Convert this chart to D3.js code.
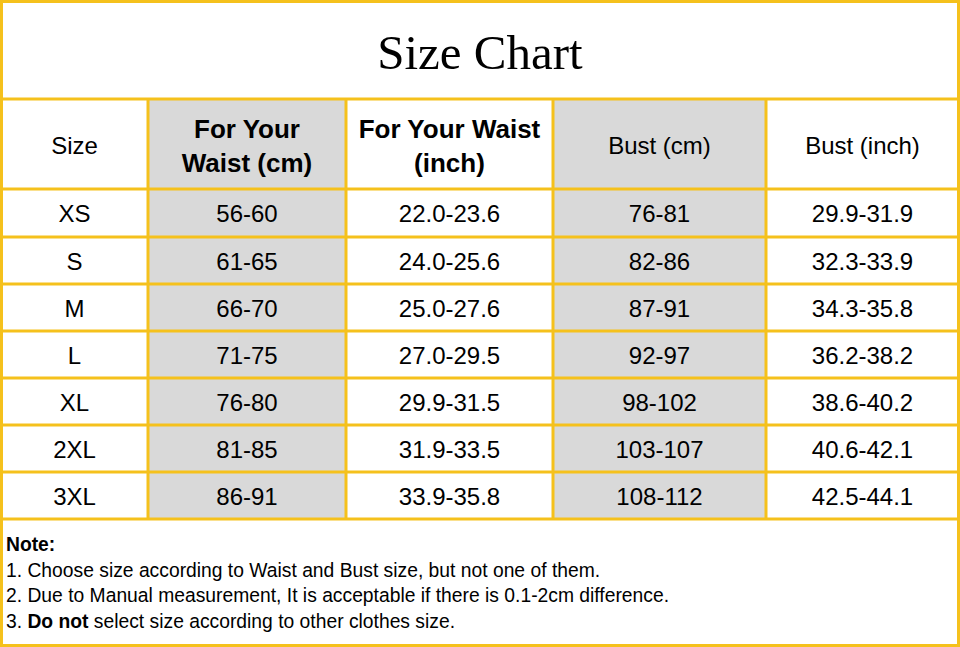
<!DOCTYPE html>
<html><head><meta charset="utf-8">
<script src="https://cdn.jsdelivr.net/npm/d3@7"></script>
<style>body{margin:0;background:#fff}</style>
</head><body><svg id="chart"></svg>
<script>
var headers = [["Size"], ["For Your", "Waist (cm)"], ["For Your Waist", "(inch)"], ["Bust (cm)"], ["Bust (inch)"]];
var headerBold = [false, true, true, false, false];
var sizes = ["XS", "S", "M", "L", "XL", "2XL", "3XL"];
var waistCm = ["56-60", "61-65", "66-70", "71-75", "76-80", "81-85", "86-91"];
var waistInch = ["22.0-23.6", "24.0-25.6", "25.0-27.6", "27.0-29.5", "29.9-31.5", "31.9-33.5", "33.9-35.8"];
var bustCm = ["76-81", "82-86", "87-91", "92-97", "98-102", "103-107", "108-112"];
var bustInch = ["29.9-31.9", "32.3-33.9", "34.3-35.8", "36.2-38.2", "38.6-40.2", "40.6-42.1", "42.5-44.1"];
var notes = [
  [["Note:", true]],
  [["1. Choose size according to Waist and Bust size, but not one of them.", false]],
  [["2. Due to Manual measurement, It is acceptable if there is 0.1-2cm difference.", false]],
  [["3. ", false], ["Do not", true], [" select size according to other clothes size.", false]]
];

var W = 960, H = 647, yellow = "#f5c11c", gray = "#d9d9d9";
var font = "'Liberation Sans', Arial, sans-serif";
var colEdges = [1, 148, 346, 553, 766, 959];
var rowEdges = [189, 237, 284, 331, 378, 425, 472, 519];
var columns = [sizes, waistCm, waistInch, bustCm, bustInch];

var svg = d3.select("#chart").attr("width", W).attr("height", H);
svg.append("rect").attr("width", W).attr("height", H).attr("fill", "#fff");

// gray columns
[1, 3].forEach(function (c) {
  svg.append("rect").attr("x", colEdges[c]).attr("y", 99)
    .attr("width", colEdges[c + 1] - colEdges[c]).attr("height", 519 - 99).attr("fill", gray);
});

// title
svg.append("text").attr("x", W / 2).attr("y", 69).attr("text-anchor", "middle")
  .attr("font-family", "'Liberation Serif', 'Times New Roman', serif").attr("font-size", 49)
  .text("Size Chart");

// headers
headers.forEach(function (lines, c) {
  var cx = (colEdges[c] + colEdges[c + 1]) / 2;
  var t = svg.append("text").attr("text-anchor", "middle").attr("font-family", font)
    .attr("font-size", headerBold[c] ? 26 : 24).attr("font-weight", headerBold[c] ? "bold" : "normal");
  var y0 = lines.length === 1 ? 154 : 138;
  lines.forEach(function (l, i) {
    t.append("tspan").attr("x", cx).attr("y", y0 + i * 34).text(l);
  });
});

// body cells
columns.forEach(function (vals, c) {
  var cx = (colEdges[c] + colEdges[c + 1]) / 2;
  svg.selectAll(null).data(vals).enter().append("text")
    .attr("x", cx)
    .attr("y", function (d, i) { return (rowEdges[i] + rowEdges[i + 1]) / 2 + 9; })
    .attr("text-anchor", "middle").attr("font-family", font).attr("font-size", 24)
    .text(function (d) { return d; });
});

// grid lines
var g = svg.append("g").attr("stroke", yellow).attr("stroke-width", 3);
[99].concat(rowEdges).forEach(function (y) {
  g.append("line").attr("x1", 0).attr("x2", W).attr("y1", y).attr("y2", y);
});
colEdges.slice(1, -1).forEach(function (x) {
  g.append("line").attr("x1", x).attr("x2", x).attr("y1", 99).attr("y2", 519);
});
g.append("rect").attr("x", 1.5).attr("y", 1.5).attr("width", W - 3).attr("height", H - 3).attr("fill", "none");

// notes
notes.forEach(function (parts, i) {
  var t = svg.append("text").attr("x", 6).attr("y", 551 + i * 25.5)
    .attr("font-family", font).attr("font-size", 19.3);
  parts.forEach(function (p) {
    t.append("tspan").attr("font-weight", p[1] ? "bold" : "normal").text(p[0]);
  });
});
</script></body></html>
